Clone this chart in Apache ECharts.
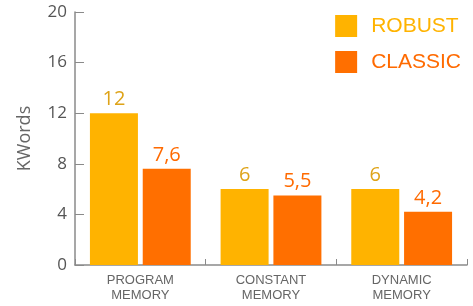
<!DOCTYPE html>
<html>
<head>
<meta charset="utf-8">
<script src="https://cdn.jsdelivr.net/npm/echarts@6/dist/echarts.min.js"></script>
<style>
  html, body { margin: 0; padding: 0; background: #fff; }
  #main { width: 473px; height: 306px; }
</style>
</head>
<body>
<div id="main"></div>
<script>
// data
let categories = ['PROGRAM\nMEMORY', 'CONSTANT\nMEMORY', 'DYNAMIC\nMEMORY'];
let robust = [12, 6, 6];
let classic = [7.6, 5.5, 4.2];
let yTicks = [0, 4, 8, 12, 16, 20];

let myChart = echarts.init(document.getElementById('main'));

// label with decimal comma
function comma(p) {
  return String(p.value).replace('.', ',');
}

let option = {
  backgroundColor: '#fff',
  animation: false,
  grid: { left: 75, right: 6, top: 12, bottom: 41 },
  legend: {
    orient: 'vertical',
    right: 12,
    top: 15,
    padding: 0,
    itemWidth: 22,
    itemHeight: 22,
    itemGap: 14,
    icon: 'rect',
    textStyle: { fontSize: 21, fontFamily: 'Liberation Sans', padding: [0, 0, 0, 9] },
    data: [
      { name: 'ROBUST', textStyle: { color: '#ffb300' } },
      { name: 'CLASSIC', textStyle: { color: '#ff6a00' } }
    ]
  },
  xAxis: {
    type: 'category',
    data: categories,
    axisLine: { lineStyle: { color: '#8a8a8a', width: 1.5 } },
    axisTick: { show: true, inside: true, length: 6, lineStyle: { color: '#8a8a8a' } },
    axisLabel: {
      color: '#666',
      fontSize: 13,
      fontFamily: 'Liberation Sans',
      lineHeight: 15,
      margin: 8
    }
  },
  yAxis: {
    type: 'value',
    min: yTicks[0],
    max: yTicks[yTicks.length - 1],
    interval: 4,
    name: 'KWords',
    nameLocation: 'middle',
    nameGap: 41,
    nameTextStyle: { color: '#666', fontSize: 18, fontFamily: 'Open Sans' },
    splitLine: { show: false },
    axisLine: { show: true, lineStyle: { color: '#8a8a8a', width: 1.5 } },
    axisTick: { show: true, inside: true, length: 9, lineStyle: { color: '#8a8a8a' } },
    axisLabel: { color: '#555', fontSize: 17, fontFamily: 'Open Sans', margin: 8 }
  },
  series: [
    {
      name: 'ROBUST',
      type: 'bar',
      data: robust,
      barWidth: 48,
      barGap: '10%',
      itemStyle: { color: '#ffb300' },
      label: {
        show: true,
        position: 'top',
        distance: 4,
        formatter: comma,
        color: '#dea318',
        fontSize: 20,
        fontFamily: 'Open Sans'
      }
    },
    {
      name: 'CLASSIC',
      type: 'bar',
      data: classic,
      barWidth: 48,
      itemStyle: { color: '#ff6f00' },
      label: {
        show: true,
        position: 'top',
        distance: 4,
        formatter: comma,
        color: '#ff6a00',
        fontSize: 20,
        fontFamily: 'Open Sans'
      }
    }
  ]
};
myChart.setOption(option);
</script>
</body>
</html>
